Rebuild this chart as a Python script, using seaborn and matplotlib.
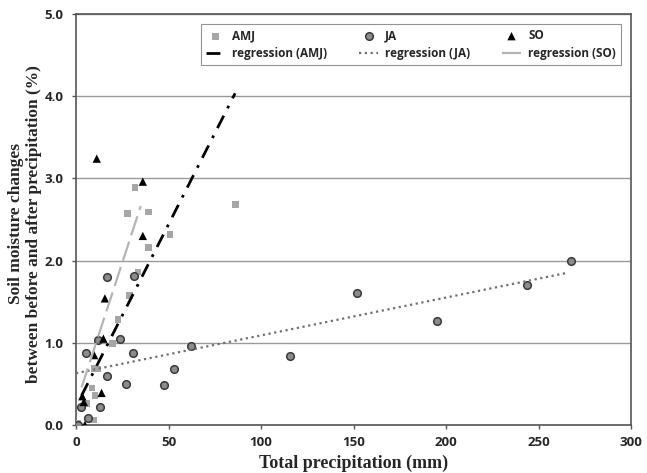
import numpy as np
import pandas as pd
import matplotlib
matplotlib.use("Agg")
import matplotlib.pyplot as plt
import seaborn as sns

# Rainfall events: total precipitation (mm) vs soil moisture change (%)
amj_precip = [31.9, 27.7, 39.1, 39.1, 50.8, 33.5, 86.0, 28.8, 22.7, 19.6,
              9.9, 11.5, 8.6, 10.3, 5.8, 9.6, 0.8]
amj_moist = [2.89, 2.57, 2.59, 2.16, 2.32, 1.86, 2.68, 1.58, 1.28, 0.99,
             0.69, 0.68, 0.45, 0.36, 0.26, 0.06, 0.02]

ja_precip = [16.9, 31.6, 12.0, 23.6, 5.4, 30.8, 17.0, 26.8, 47.7, 53.1,
             62.2, 115.7, 151.7, 195.0, 243.6, 267.4, 2.9, 12.8, 6.6, 1.1]
ja_moist = [1.80, 1.81, 1.03, 1.04, 0.87, 0.87, 0.59, 0.50, 0.49, 0.68,
            0.96, 0.84, 1.60, 1.27, 1.70, 2.00, 0.22, 0.22, 0.08, 0.00]

so_precip = [11.2, 36.1, 36.1, 15.6, 14.8, 9.8, 13.8, 3.4, 4.2, 4.8]
so_moist = [3.24, 2.96, 2.30, 1.54, 1.05, 0.85, 0.39, 0.35, 0.28, 0.00]

# Linear trend lines: (slope, intercept, x start, x end)
reg_amj = (0.0443, 0.225, 3.0, 86.0)
reg_ja = (0.0046, 0.63, 0.0, 266.0)
reg_so = (0.069, 0.25, 3.0, 35.0)

x_ticks = [0, 50, 100, 150, 200, 250, 300]
y_ticks = [0.0, 1.0, 2.0, 3.0, 4.0, 5.0]

sns.set_theme(style="white")
plt.rcParams["font.family"] = ["Open Sans", "DejaVu Sans"]

df = pd.concat([
    pd.DataFrame({"precip": amj_precip, "moist": amj_moist, "season": "AMJ"}),
    pd.DataFrame({"precip": ja_precip, "moist": ja_moist, "season": "JA"}),
    pd.DataFrame({"precip": so_precip, "moist": so_moist, "season": "SO"}),
], ignore_index=True)

fig = plt.figure(figsize=(6.47, 4.73), dpi=100)
ax = fig.add_axes([0.1175, 0.1015, 0.8578, 0.869])

ax.yaxis.grid(True, color="#9a9a9a", linewidth=1.0)
ax.set_axisbelow(True)

sns.scatterplot(data=df[df.season == "AMJ"], x="precip", y="moist", ax=ax,
                marker="s", s=24, color="#a6a6a6", edgecolor="none",
                label="AMJ", zorder=3)
sns.scatterplot(data=df[df.season == "JA"], x="precip", y="moist", ax=ax,
                marker="o", s=30, color="#8c8c8c", edgecolor="#3a3a3a",
                linewidth=1.1, label="JA", zorder=3)
sns.scatterplot(data=df[df.season == "SO"], x="precip", y="moist", ax=ax,
                marker="^", s=36, color="black", edgecolor="none",
                label="SO", zorder=3)


def trend(params):
    slope, icpt, x0, x1 = params
    xs = np.array([x0, x1])
    return xs, icpt + slope * xs


xs, ys = trend(reg_amj)
ax.plot(xs, ys, color="black", linewidth=2.0, linestyle=(0, (5, 3, 1, 3)),
        label="regression (AMJ)", zorder=4)
xs, ys = trend(reg_ja)
ax.plot(xs, ys, color="#707070", linewidth=1.6, linestyle=(0, (1, 1.6)),
        label="regression (JA)", zorder=4)
xs, ys = trend(reg_so)
ax.plot(xs, ys, color="#b5b5b5", linewidth=1.6, linestyle=(0, (9, 3)),
        label="regression (SO)", zorder=4)

ax.set_xlim(0, 300)
ax.set_ylim(0, 5.0)
ax.set_xticks(x_ticks)
ax.set_yticks(y_ticks)
ax.set_xticklabels([str(t) for t in x_ticks], fontsize=9.5, fontweight="bold")
ax.set_yticklabels([f"{t:.1f}" for t in y_ticks], fontsize=9.5, fontweight="bold")
ax.tick_params(axis="both", direction="out", length=3, width=1, color="#555555",
               bottom=True, left=True)
ax.tick_params(axis="y", pad=6)
ax.tick_params(axis="x", pad=5)

for side in ["left", "right", "top", "bottom"]:
    ax.spines[side].set_visible(True)
    ax.spines[side].set_color("#555555")
    ax.spines[side].set_linewidth(1.2)

serif = ["Liberation Serif", "DejaVu Serif"]
ax.set_xlabel("Total precipitation (mm)", family=serif, fontsize=13,
              fontweight="bold", labelpad=4)
ax.set_ylabel("Soil moisture changes\nbetween before and after precipitation (%)",
              family=serif, fontsize=12.5, fontweight="bold", linespacing=1.15)
ax.yaxis.set_label_coords(-0.062, 0.49)

handles, labels = ax.get_legend_handles_labels()
order = ["AMJ", "regression (AMJ)", "JA", "regression (JA)", "SO", "regression (SO)"]
hmap = dict(zip(labels, handles))
leg = ax.legend([hmap[k] for k in order], order, ncol=3, loc="upper left",
                mode="expand", bbox_to_anchor=(0.2144, 0.8905, 0.7784, 0.0995),
                frameon=True, fancybox=False, edgecolor="#777777",
                prop={"weight": "bold", "size": 8.5},
                handlelength=1.6, handletextpad=0.6,
                borderpad=0.45, labelspacing=0.4)
leg.get_frame().set_linewidth(0.8)

fig.savefig("out.png", dpi=100)
